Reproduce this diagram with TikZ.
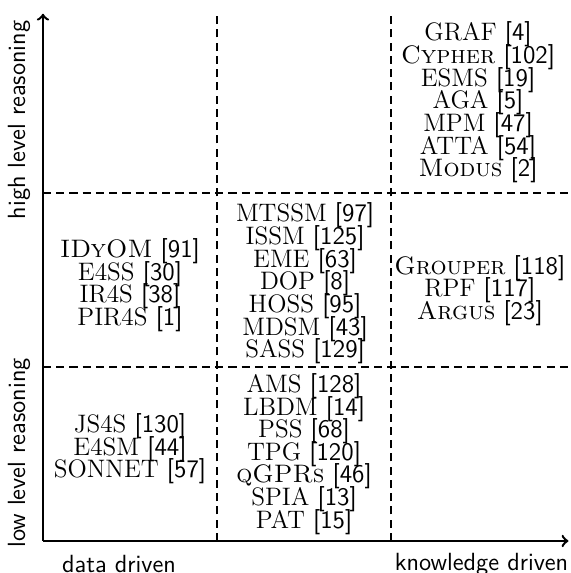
\documentclass[tikz,border=0pt]{standalone}
\usetikzlibrary{arrows}
\newcommand{\refno}[1]{\textsf{[#1]}}
\newcommand{\cellfont}{\fontsize{12.4}{11.1}\selectfont\lineskiplimit-20pt\relax}
\tikzset{
  axis/.style      = {->, line width=1.2pt},
  grid line/.style = {dash pattern=on 4pt off 2.5pt, thick},
  cell/.style      = {align=center, inner sep=0pt, font=\cellfont},
  axis label/.style = {inner sep=0pt, font=\sffamily\fontsize{12.2}{14}\selectfont}
}

\begin{document}
\begin{tikzpicture}[x=3cm,y=3cm]
\useasboundingbox (-0.247,-0.184) rectangle (3.029,3.109);
\coordinate (o) at (0,0);
\coordinate (xend) at (3.02,0);
\coordinate (yend) at (0,3.03);
% quadrant borders
\foreach \i in {1,2} {
  \draw[grid line] (\i,0) -- (\i,3.03);
  \draw[grid line] (0,\i) -- (3.03,\i);
}
\draw[axis] (o) -- (xend);
\draw[axis] (o) -- (yend);
% axis labels
\node[axis label] (data) at (0.437,-0.134) {data driven};
\node[axis label] (know) at (2.52,-0.134) {knowledge driven};
\node[axis label, rotate=90] (low) at (-0.138,0.506) {low level reasoning};
\node[axis label, rotate=90] (high) at (-0.138,2.42) {high level reasoning};
% systems in each cell
\node[cell] (c13) at (2.5,2.52) {GRAF \refno{4}\\ \textsc{Cypher} \refno{102}\\ ESMS \refno{19}\\
  AGA \refno{5}\\ MPM \refno{47}\\ ATTA \refno{54}\\ \textsc{Modus} \refno{2}};
\node[cell] (c21) at (0.5,1.47) {\textsc{IDyOM} \refno{91}\\ E4SS \refno{30}\\ IR4S \refno{38}\\ PIR4S \refno{1}};
\node[cell] (c22) at (1.506,1.48) {MTSSM \refno{97}\\ ISSM \refno{125}\\ EME \refno{63}\\ DOP \refno{8}\\
  HOSS \refno{95}\\ MDSM \refno{43}\\ SASS \refno{129}};
\node[cell] (c23) at (2.51,1.44) {\textsc{Grouper} \refno{118}\\ RPF \refno{117}\\ \textsc{Argus} \refno{23}};
\node[cell] (c31) at (0.5,0.53) {JS4S \refno{130}\\ E4SM \refno{44}\\ SONNET \refno{57}};
\node[cell] (c32) at (1.5,0.5) {AMS \refno{128}\\ LBDM \refno{14}\\ PSS \refno{68}\\ TPG \refno{120}\\
  \textsc{qGPRs} \refno{46}\\ SPIA \refno{13}\\ PAT \refno{15}};
\end{tikzpicture}
\end{document}
